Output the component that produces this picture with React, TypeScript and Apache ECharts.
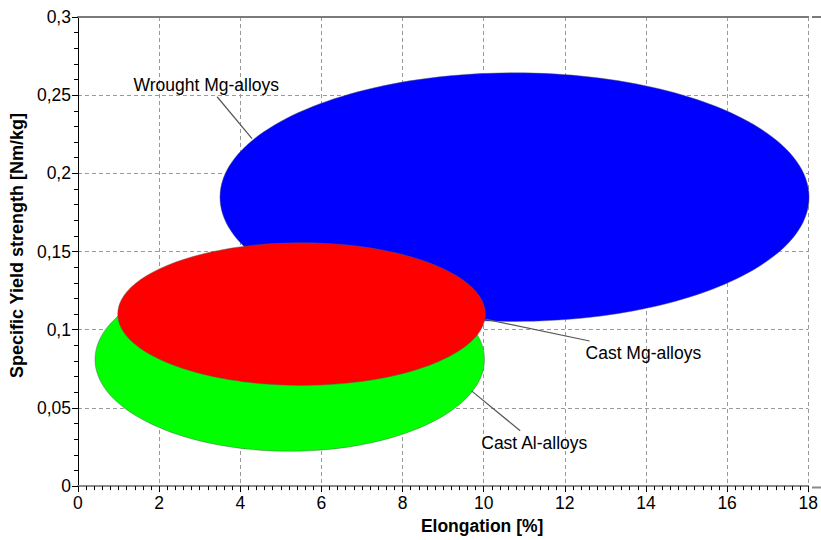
import React, { useEffect, useRef } from "react";
import * as echarts from "echarts";

// Property regions of the alloy groups (centre and half-extent on each axis)
const alloyNames = ["Wrought Mg-alloys", "Cast Al-alloys", "Cast Mg-alloys"];
const elongationCenter = [10.76, 5.22, 5.51];
const elongationHalfRange = [7.26, 4.8, 4.53];
const strengthCenter = [0.1848, 0.081, 0.11];
const strengthHalfRange = [0.0795, 0.0587, 0.0456];
const alloyColors = ["#0000ff", "#00ff00", "#ff0000"];

// Callout labels, in axis units: text anchor and leader line ends
const calloutText = ["Wrought Mg-alloys", "Cast Mg-alloys", "Cast Al-alloys"];
const calloutTextX = [1.37, 12.51, 9.94];
const calloutTextY = [0.2566, 0.0851, 0.0277];
const leaderFromX = [3.43, 10.04, 9.7];
const leaderFromY = [0.249, 0.1068, 0.0609];
const leaderToX = [4.29, 12.61, 10.9];
const leaderToY = [0.2222, 0.0928, 0.0354];

const FONT = '"Liberation Sans", Arial, sans-serif';
const X_MAX = 18;

export default function App() {
  const ref = useRef<HTMLDivElement>(null);

  useEffect(() => {
    if (!ref.current) return;
    const chart = echarts.init(ref.current, null, { renderer: "svg" });

    const regionData = alloyNames.map((n, i) => ({
      name: n,
      value: [elongationCenter[i], strengthCenter[i], elongationHalfRange[i], strengthHalfRange[i]],
    }));

    const calloutData = calloutText.map((t, i) => ({
      name: t,
      value: [calloutTextX[i], calloutTextY[i], leaderFromX[i], leaderFromY[i], leaderToX[i], leaderToY[i]],
    }));

    const gridColor = "#9a9a9a";

    chart.setOption({
      animation: false,
      backgroundColor: "#ffffff",
      textStyle: { fontFamily: FONT },
      grid: { left: 77, right: 9, top: 17, bottom: 52.5, containLabel: false },
      // plot frame lines continue to the right edge of the canvas
      graphic: [
        {
          type: "line",
          shape: { x1: 812, y1: 17, x2: 821, y2: 17 },
          style: { stroke: "#7a7a7a", lineWidth: 2 },
          silent: true,
        },
        {
          type: "line",
          shape: { x1: 812, y1: 487.5, x2: 821, y2: 487.5 },
          style: { stroke: "#8a8a8a", lineWidth: 2 },
          silent: true,
        },
      ],
      xAxis: [
        {
          type: "value",
          min: 0,
          max: X_MAX,
          interval: 2,
          name: "Elongation [%]",
          nameLocation: "middle",
          nameGap: 26,
          nameTextStyle: {
            fontFamily: FONT,
            fontSize: 17.5,
            fontWeight: "bold",
            color: "#000",
            padding: [0, 0, 0, 78],
          },
          axisLine: { show: true, lineStyle: { color: "#8a8a8a", width: 2 } },
          axisTick: { show: true, length: 6, lineStyle: { color: "#000" } },
          minorTick: { show: true, splitNumber: 10, length: 4, lineStyle: { color: "#000" } },
          axisLabel: { fontFamily: FONT, fontSize: 17.5, color: "#000", margin: 8 },
          splitLine: { show: true, lineStyle: { color: gridColor, type: [4, 3], width: 1 } },
        },
        {
          type: "value",
          position: "top",
          min: 0,
          max: X_MAX,
          interval: 2,
          axisLine: { show: true, lineStyle: { color: "#7a7a7a", width: 2 } },
          axisTick: { show: false },
          axisLabel: { show: false },
          splitLine: { show: false },
        },
      ],
      yAxis: {
        type: "value",
        min: 0,
        max: 0.3,
        interval: 0.05,
        name: "Specific Yield strength [Nm/kg]",
        nameLocation: "middle",
        nameGap: 44,
        nameTextStyle: {
          fontFamily: FONT,
          fontSize: 18,
          fontWeight: "bold",
          color: "#000",
          padding: [0, 0, 0, 12],
        },
        axisLine: { show: true, lineStyle: { color: "#000", width: 1 } },
        axisTick: { show: true, length: 6, lineStyle: { color: "#000" } },
        minorTick: { show: true, splitNumber: 5, length: 4, lineStyle: { color: "#000" } },
        axisLabel: {
          fontFamily: FONT,
          fontSize: 17.5,
          color: "#000",
          margin: 7,
          formatter: (v: number) => String(+v.toFixed(2)).replace(".", ","),
        },
        splitLine: { show: true, lineStyle: { color: gridColor, type: [4, 3], width: 1 } },
      },
      series: [
        {
          type: "custom",
          name: "regions",
          clip: false,
          data: regionData,
          renderItem: (params: any, api: any) => {
            const c = api.coord([api.value(0), api.value(1)]);
            const s = api.size([api.value(2), api.value(3)]);
            return {
              type: "ellipse",
              shape: { cx: c[0], cy: c[1], rx: s[0], ry: s[1] },
              style: {
                fill: alloyColors[params.dataIndex],
                stroke: "rgba(90,90,90,0.45)",
                lineWidth: 1,
              },
            };
          },
          z: 3,
        },
        {
          type: "custom",
          name: "callouts",
          clip: false,
          data: calloutData,
          renderItem: (params: any, api: any) => {
            const t = api.coord([api.value(0), api.value(1)]);
            const a = api.coord([api.value(2), api.value(3)]);
            const b = api.coord([api.value(4), api.value(5)]);
            return {
              type: "group",
              children: [
                {
                  type: "line",
                  shape: { x1: a[0], y1: a[1], x2: b[0], y2: b[1] },
                  style: { stroke: "#555", lineWidth: 1.2 },
                },
                {
                  type: "text",
                  style: {
                    text: calloutText[params.dataIndex],
                    x: t[0],
                    y: t[1],
                    fill: "#000",
                    font: `17.5px ${FONT}`,
                    align: "left",
                    verticalAlign: "middle",
                  },
                },
              ],
            };
          },
          z: 4,
        },
      ],
    });

    return () => chart.dispose();
  }, []);

  return (
    <div
      ref={ref}
      style={{ position: "fixed", left: 0, top: 0, width: 821, height: 540, background: "#fff" }}
    />
  );
}
